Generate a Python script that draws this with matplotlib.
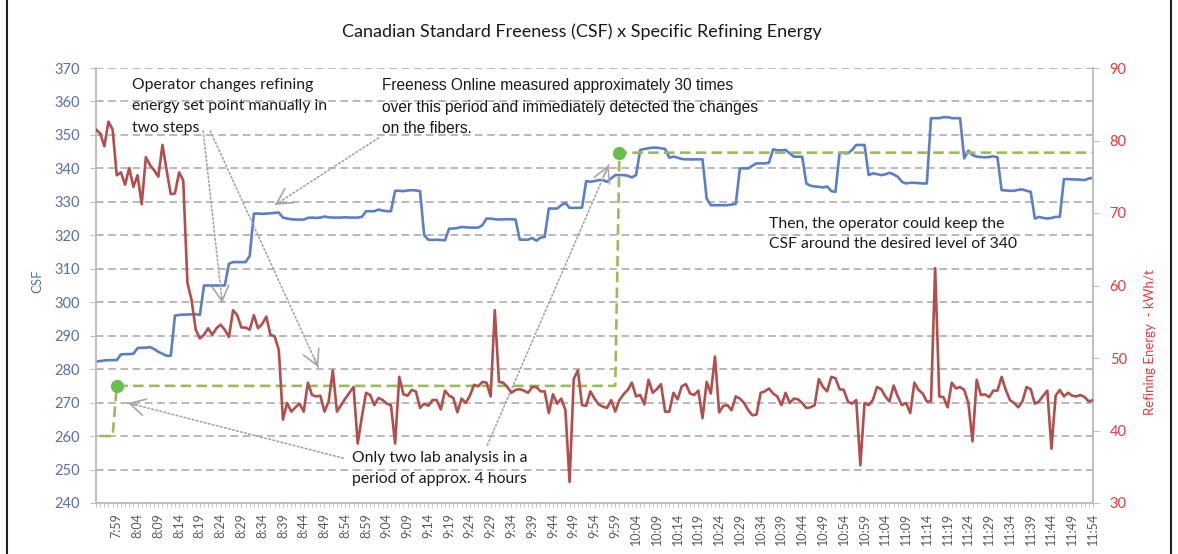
import numpy as np
import matplotlib.pyplot as plt
from matplotlib.lines import Line2D

plt.rcParams['font.family'] = ['Lato', 'DejaVu Sans']

# one sample per minute, first sample at 7:54
start_hour, start_min = 7, 54

csf = [
    282.3, 282.4, 282.6, 282.7, 282.7, 282.7, 284.4, 284.5, 284.5, 284.6,
    286.3, 286.4, 286.4, 286.6, 286.0, 285.2, 284.6, 284.0, 284.0, 296.0,
    296.2, 296.3, 296.3, 296.4, 296.4, 296.2, 305.0, 305.0, 305.0, 305.0,
    305.0, 305.0, 311.5, 312.0, 312.0, 312.0, 312.0, 313.8, 326.5, 326.5,
    326.4, 326.5, 326.6, 326.7, 326.8, 325.3, 325.0, 324.8, 324.7, 324.7,
    324.7, 325.2, 325.3, 325.2, 325.3, 325.6, 325.4, 325.3, 325.3, 325.3,
    325.4, 325.3, 325.3, 325.3, 325.5, 327.2, 327.2, 327.2, 327.7, 327.4,
    327.2, 327.2, 333.3, 333.3, 333.2, 333.4, 333.5, 333.4, 333.2, 320.0,
    318.7, 318.6, 318.7, 318.6, 318.5, 322.0, 322.0, 322.2, 322.5, 322.4,
    322.3, 322.3, 322.3, 323.0, 325.0, 325.0, 324.8, 324.7, 324.8, 324.8,
    324.8, 324.7, 318.7, 318.7, 318.7, 319.2, 318.4, 319.3, 319.5, 328.0,
    328.0, 328.0, 329.0, 329.7, 328.2, 328.2, 328.2, 328.3, 336.2, 336.0,
    336.2, 336.5, 336.5, 336.0, 337.0, 338.0, 338.0, 338.0, 337.8, 337.3,
    338.0, 345.5, 345.8, 346.0, 346.2, 346.2, 346.0, 345.8, 343.2, 343.5,
    343.2, 342.8, 342.7, 342.7, 342.7, 342.7, 342.7, 331.0, 329.0, 329.0,
    329.0, 329.0, 329.0, 329.2, 329.4, 340.0, 340.0, 340.0, 340.8, 341.5,
    341.5, 341.5, 341.7, 345.7, 345.4, 345.4, 345.5, 344.5, 343.5, 343.5,
    343.5, 335.5, 334.8, 334.6, 334.5, 334.3, 334.6, 333.2, 333.0, 344.7,
    344.6, 344.5, 345.5, 347.0, 347.0, 347.0, 338.0, 338.5, 338.3, 338.0,
    338.2, 338.7, 338.2, 337.5, 336.0, 335.5, 335.7, 335.7, 335.6, 335.5,
    335.5, 355.0, 355.0, 355.0, 355.3, 355.3, 355.0, 355.0, 355.0, 343.0,
    345.3, 344.0, 343.5, 343.4, 343.3, 343.4, 343.6, 343.3, 333.5, 333.4,
    333.3, 333.3, 333.6, 333.7, 333.3, 333.0, 325.0, 325.5, 325.2, 325.0,
    325.2, 325.5, 325.5, 336.8, 336.8, 336.7, 336.7, 336.6, 336.5, 337.0,
    337.2,
]

energy = [
    81.5, 81.0, 79.2, 82.6, 81.5, 75.2, 75.6, 73.9, 76.2, 73.6,
    75.2, 71.2, 77.7, 76.6, 75.9, 75.0, 79.4, 75.9, 72.6, 72.7,
    75.6, 74.5, 60.4, 58.0, 53.9, 52.7, 53.2, 54.1, 53.2, 54.1,
    54.6, 53.9, 52.9, 56.6, 55.9, 54.2, 54.2, 53.9, 55.9, 54.1,
    54.7, 55.7, 53.2, 53.0, 51.1, 41.5, 43.8, 42.6, 43.2, 43.7,
    42.6, 46.6, 44.9, 44.7, 44.8, 42.6, 44.0, 48.3, 42.6, 43.5,
    44.4, 45.2, 46.0, 38.2, 41.9, 45.2, 44.9, 43.5, 44.5, 44.2,
    43.7, 43.5, 38.2, 47.4, 45.0, 44.8, 45.6, 45.4, 43.1, 43.7,
    43.4, 44.2, 44.2, 42.9, 45.5, 44.8, 44.5, 42.5, 44.4, 43.8,
    44.8, 46.3, 46.1, 46.7, 46.6, 44.7, 56.6, 46.7, 46.6, 46.0,
    45.2, 45.6, 45.7, 45.5, 45.2, 46.0, 46.0, 45.4, 45.4, 42.4,
    45.0, 43.7, 44.4, 42.8, 32.9, 47.1, 48.3, 43.5, 43.4, 45.4,
    44.4, 43.6, 43.3, 43.1, 44.2, 42.6, 44.2, 45.0, 45.6, 46.6,
    44.7, 44.9, 43.6, 47.0, 45.2, 45.7, 46.4, 42.6, 42.6, 45.2,
    44.3, 46.1, 46.4, 45.1, 44.9, 45.5, 41.7, 46.7, 45.1, 50.2,
    42.5, 43.4, 43.5, 42.8, 44.7, 44.4, 43.8, 42.8, 42.1, 42.2,
    45.2, 45.4, 45.8, 45.1, 44.7, 43.5, 45.2, 43.8, 44.4, 44.3,
    43.8, 43.1, 43.2, 43.5, 47.1, 46.0, 45.4, 47.4, 47.2, 45.7,
    45.6, 44.0, 43.7, 44.2, 35.2, 43.8, 43.5, 44.2, 46.0, 45.7,
    44.7, 44.0, 46.2, 44.7, 43.5, 43.8, 42.4, 46.6, 45.6, 45.1,
    44.0, 44.0, 62.4, 44.7, 44.6, 43.2, 46.6, 45.8, 46.0, 45.6,
    43.8, 38.5, 47.0, 44.9, 45.0, 44.6, 45.5, 45.5, 47.4, 45.6,
    44.2, 43.8, 43.2, 44.0, 46.0, 45.7, 43.7, 44.0, 44.8, 45.5,
    37.5, 44.8, 45.6, 44.7, 45.2, 44.8, 44.7, 44.9, 44.6, 44.0,
    44.2,
]

# lab results, held until the next analysis (minute index, CSF)
lab_minute = [1, 4, 5, 125, 126, 240]
lab_csf = [260, 260, 275, 275, 344.7, 344.7]
lab_sample_minute = [5, 126]
lab_sample_csf = [275, 344.7]

minutes = np.arange(len(csf))
time_labels = []
for m in minutes:
    t = start_hour * 60 + start_min + m
    time_labels.append("%d:%02d" % (t // 60, t % 60))

blue = '#5b7ec9'
red = '#b24f4d'
green = '#9bbb59'
grey = '#bfbfbf'
csf_col = '#5670a8'
en_col = '#e8383d'

fig = plt.figure(figsize=(11.78, 5.54), dpi=100)
ax = fig.add_axes([96 / 1178, 51 / 554, 997 / 1178, 435 / 554])
ax2 = ax.twinx()

ax.plot(minutes, csf, color=blue, lw=1.9, zorder=3)
ax.plot(lab_minute, lab_csf, color=green, lw=1.9, dashes=(4, 2), zorder=4)
ax.plot(lab_sample_minute, lab_sample_csf, 'o', color='#6abf4b', ms=8.5, zorder=5)
ax2.plot(minutes, energy, color=red, lw=1.9, zorder=3)

ax.set_xlim(0, 240)
ax.set_ylim(240, 370)
ax2.set_ylim(30, 90)
ax.set_yticks(range(240, 371, 10))
ax2.set_yticks(range(30, 91, 10))
major = list(range(5, 241, 5))
ax.set_xticks(major)
ax.set_xticklabels([time_labels[i] for i in major], rotation=90)
ax.set_xticks(minutes, minor=True)

ax.yaxis.grid(True, ls=(0, (5, 3)), color='#a6a6a6', lw=1.1)
ax.set_axisbelow(True)

for a in (ax, ax2):
    a.spines['top'].set_visible(False)
    for s in ('left', 'right', 'bottom'):
        a.spines[s].set_color(grey)
        a.spines[s].set_linewidth(1.3)

ax.tick_params(axis='y', colors=grey, labelcolor=csf_col, labelsize=10.5, length=4.5, pad=7)
ax2.tick_params(axis='y', colors=grey, labelcolor=en_col, labelsize=10.5, length=4, pad=8)
ax.tick_params(axis='x', which='both', colors=grey, labelcolor='#595959', labelsize=9, length=3.2, pad=4)

fig.text(582 / 1178, 1 - 32 / 554, 'Canadian Standard Freeness (CSF) x Specific Refining Energy',
         ha='center', va='center', fontsize=13, color='#1a1a1a')
fig.text(37 / 1178, 1 - 281 / 554, 'CSF', rotation=90, ha='center', va='center',
         fontsize=9.5, color=csf_col)
fig.text(1150 / 1178, 1 - 342 / 554, 'Refining Energy  - kWh/t', rotation=90, ha='center',
         va='center', fontsize=9.5, color=en_col)

ax.text(8.7, 367.0, 'Operator changes refining\nenergy set point manually in\ntwo steps',
        ha='left', va='top', fontsize=11.3, linespacing=1.66, color='#1a1a1a', zorder=6)
ax.text(68.9, 367.0, 'Freeness Online measured approximately 30 times\n'
        'over this period and immediately detected the changes\non the fibers.',
        ha='left', va='top', fontsize=11.2, linespacing=1.55, color='#1a1a1a',
        family='Liberation Sans', zorder=6)
ax.text(61.7, 255.5, 'Only two lab analysis in a\nperiod of approx. 4 hours',
        ha='left', va='top', fontsize=11.3, linespacing=1.66, color='#1a1a1a', zorder=6)
ax.text(161.9, 325.6, 'Then, the operator could keep the\nCSF around the desired level of 340',
        ha='left', va='top', fontsize=11.3, linespacing=1.58, color='#1a1a1a', zorder=6)


def pointer(x0, y0, x1, y1):
    # dotted shaft and a plain open head
    ax.annotate('', xy=(x1, y1), xytext=(x0, y0),
                arrowprops=dict(arrowstyle='-', ls=(0, (1, 1.5)), color='#a6a6a6', lw=1.2,
                                shrinkA=0, shrinkB=0), zorder=6)
    ax.annotate('', xy=(x1, y1), xytext=(x1 - (x1 - x0) * 0.04, y1 - (y1 - y0) * 0.04),
                arrowprops=dict(arrowstyle='->,head_length=0.55,head_width=0.3', color='#a6a6a6',
                                lw=1.2, shrinkA=0, shrinkB=0, mutation_scale=20), zorder=6)


pointer(25.8, 351.2, 30.4, 299.8)
pointer(27.5, 351.2, 53.5, 280.6)
pointer(68.0, 349.1, 43.1, 329.1)
pointer(59.5, 253.4, 7.7, 269.9)
pointer(94.2, 257.3, 123.4, 341.0)

fig.add_artist(Line2D([7 / 1178, 7 / 1178], [0, 1], color='#222222', lw=1.5))
fig.add_artist(Line2D([1171 / 1178, 1171 / 1178], [0, 1], color='#222222', lw=1.5))

fig.savefig('out.png', dpi=100)
